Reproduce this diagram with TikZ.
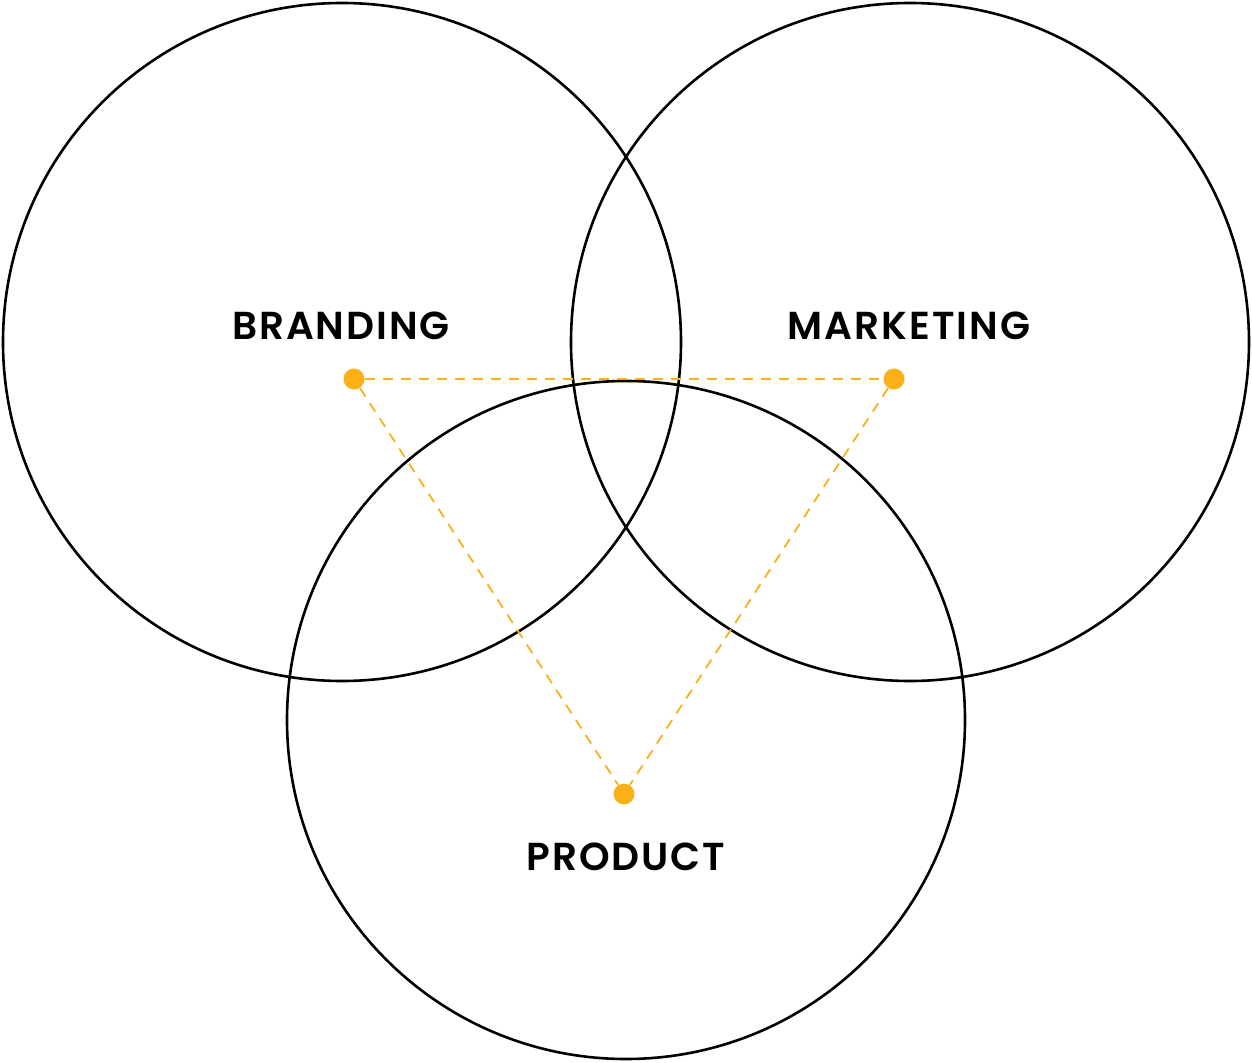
\documentclass[tikz,border=0pt]{standalone}
\usepackage{fontspec}
\setmainfont{Poppins}[UprightFont=* SemiBold,BoldFont=* Bold]
\newfontfamily\labelfont{Poppins}[UprightFont=* SemiBold,LetterSpace=5]
\definecolor{dotorange}{RGB}{251,176,23}
\tikzset{
	ring/.style={draw=black,line width=1.3pt,circle,minimum size=339pt,inner sep=0pt},
	spot/.style={fill=dotorange,circle,minimum size=10.5pt,inner sep=0pt},
	link/.style={draw=dotorange,line width=0.9pt,dash pattern=on 5pt off 4pt},
	tag/.style={font=\labelfont\fontsize{19.5}{24}\selectfont,inner sep=0pt}
}
\begin{document}
\begin{tikzpicture}[x=0.5pt,y=-0.5pt]
	\useasboundingbox (0,0) rectangle (1252,1063);
	%circles
	\node[ring] (branding) at (342,342) {};
	\node[ring] (marketing) at (910,342) {};
	\node[ring] (product) at (626,720) {};

	%dots
	\node[spot] (b) at (354,379) {};
	\node[spot] (m) at (894,379) {};
	\node[spot] (p) at (624,794) {};

	%dashed triangle
	\draw[link] (b) -- (m);
	\draw[link] (b) -- (p);
	\draw[link] (m) -- (p);

	%labels
	\node[tag] (bl) at (341,326) {BRANDING};
	\node[tag] (ml) at (909,326) {MARKETING};
	\node[tag] (pl) at (626,857) {PRODUCT};
\end{tikzpicture}
\end{document}
